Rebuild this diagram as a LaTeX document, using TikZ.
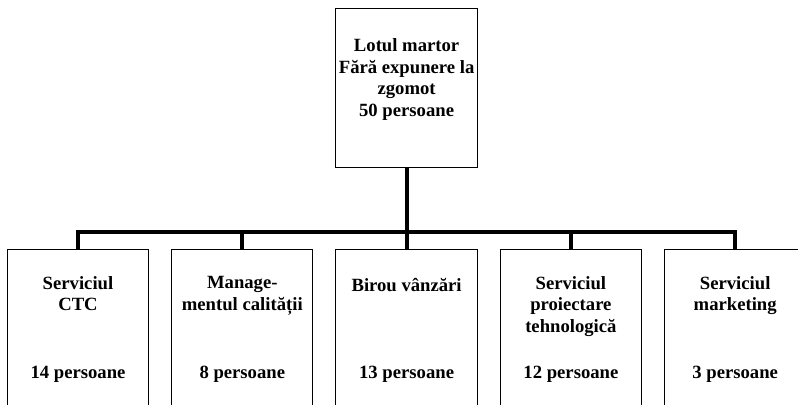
\documentclass[tikz,border=0pt]{standalone}
\usepackage{fontspec}
\setmainfont{Liberation Serif}
\usetikzlibrary{positioning}

\tikzstyle{box}=[draw,line width=0.75pt,rectangle,minimum width=106pt,inner sep=0pt]
\tikzstyle{edge} = [draw,line width=3pt,-]
\tikzstyle{txt} = [font=\fontsize{14}{16.3}\selectfont\bfseries,align=center,inner sep=0pt,execute at begin node=\strut]

\begin{document}
\begin{tikzpicture}[x=0.75pt, y=-0.75pt]
    \clip (0,0) rectangle (798,404);
    % First we draw the boxes
    \node[box, minimum height=119.25pt] (lot) at (406.6,87.5) {};
    \foreach \pos/\name in {{(78,339.5)/ctc}, {(242.3,339.5)/calitate}, {(406.6,339.5)/vanzari}, {(570.9,339.5)/proiectare}, {(735.2,339.5)/marketing}}
        \node[box, minimum height=135.75pt] (\name) at \pos {};
    % Then the texts inside them
    \node[txt, below=23pt of lot.north] (lottxt) {Lotul martor\\Fără expunere la\\zgomot\\50 persoane};
    \foreach \name/\title/\nr in {ctc/{Serviciul\\CTC}/14, calitate/{Manage-\\mentul calității}/8, vanzari/{Birou vânzări}/13, proiectare/{Serviciul\\proiectare\\tehnologică}/12, marketing/{Serviciul\\marketing}/3}
    {
        \node[txt, below=20.5pt of \name.north] (\name txt) {\title};
        \node[txt, below=86pt of \name.north] (\name nr) {\nr\ persoane};
    }
    % Connect the boxes with the bars
    \coordinate (join) at (406.6,232);
    \path[edge] (lot) -- (join);
    \foreach \name in {ctc,calitate,vanzari,proiectare,marketing}
        \path[edge] (\name) |- (join);
\end{tikzpicture}
\end{document}
